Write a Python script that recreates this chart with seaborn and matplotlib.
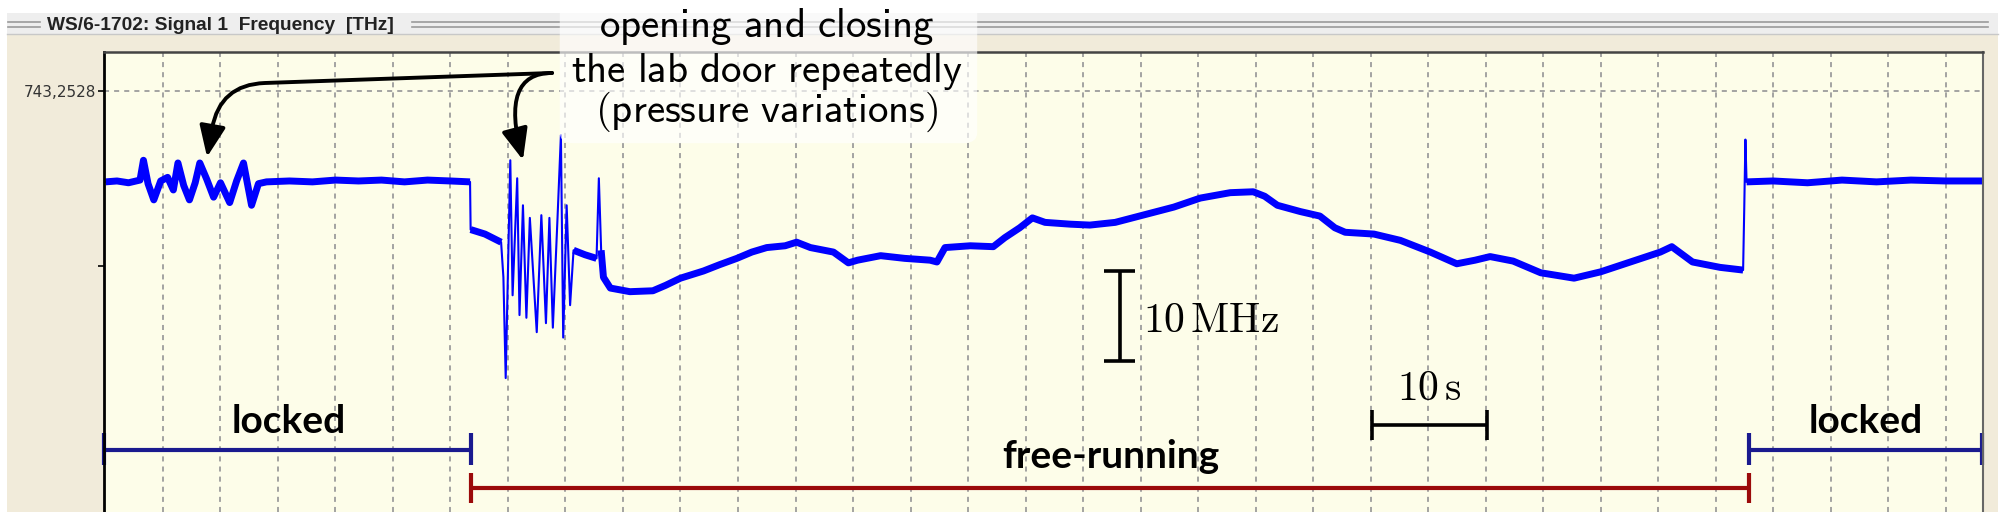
import numpy as np
import pandas as pd
import matplotlib
matplotlib.use("Agg")
import matplotlib.pyplot as plt
from matplotlib.patches import Rectangle, FancyBboxPatch
from matplotlib.lines import Line2D
import seaborn as sns

# wavemeter trace: time in s, frequency offset in MHz from 743,2528 THz
lock_a_t = [0.0, 1.0, 2.0, 3.0, 3.3, 3.7, 4.2, 4.8, 5.4, 5.9, 6.3, 6.8, 7.3, 7.8, 8.2, 8.8, 9.4,
            10.0, 10.8, 11.4, 12.0, 12.7, 13.3, 14.0, 16.0, 18.0, 20.0, 22.0, 24.0, 26.0, 28.0, 30.0, 31.7]
lock_a_f = [-10.1, -10.0, -10.2, -9.9, -7.7, -10.3, -12.1, -10.0, -9.6, -11.0, -8.0, -10.5, -12.1, -10.2, -8.0, -9.8, -11.8,
            -10.2, -12.4, -10.0, -8.0, -12.7, -10.3, -10.1, -10.0, -10.1, -9.9, -10.0, -9.9, -10.1, -9.9, -10.0, -10.1]

drop_t = [31.75, 33.0, 34.4]
drop_f = [-15.4, -15.9, -16.8]

door_t = [34.6, 34.8, 35.2, 35.4, 35.8, 36.0, 36.3, 36.6, 36.9, 37.5, 37.9, 38.3, 38.6, 38.9, 39.3, 39.6, 39.8, 40.1, 40.4]
door_f = [-20.7, -31.9, -7.7, -22.7, -9.7, -24.9, -12.7, -25.2, -14.1, -26.8, -13.8, -25.8, -14.1, -26.3, -14.3, -4.9, -27.4, -12.7, -23.8]

free_a_t = [40.7, 41.7, 42.7]
free_a_f = [-17.7, -18.2, -18.6]

spike_t = [42.9]
spike_f = [-9.7]

free_b_t = [43.1, 43.3, 43.9, 45.6, 47.6, 48.7, 50.0, 52.0, 53.4, 54.9, 56.2, 57.5, 59.1, 60.1, 61.3, 63.3,
            64.6, 65.4, 67.4, 69.5, 71.7, 72.3, 73.0, 75.2, 77.2, 78.2, 79.5, 80.6, 81.7, 83.9, 85.6, 87.8,
            89.9, 92.9, 95.2, 97.8, 99.8, 100.8, 101.9, 103.9, 105.6, 106.9, 107.8, 110.3, 112.6, 115.2, 117.5,
            119.1, 120.4, 122.4, 124.8, 127.7, 130.0, 132.6, 135.2, 136.2, 138.0, 140.4, 142.4]
free_b_f = [-17.7, -20.7, -21.9, -22.3, -22.2, -21.6, -20.8, -20.0, -19.3, -18.6, -17.9, -17.4, -17.2, -16.8, -17.4, -17.9,
            -19.1, -18.8, -18.3, -18.6, -18.8, -19.0, -17.4, -17.2, -17.3, -16.3, -15.2, -14.1, -14.6, -14.8, -14.9, -14.6,
            -13.9, -12.9, -11.9, -11.3, -11.2, -11.7, -12.7, -13.4, -13.9, -15.2, -15.7, -15.9, -16.6, -17.9, -19.2,
            -18.8, -18.4, -18.9, -20.2, -20.8, -20.1, -19.0, -17.9, -17.3, -19.0, -19.6, -19.9]

jump_t = [142.5, 142.6]
jump_f = [-13.0, -5.4]

lock_b_t = [142.7, 145.0, 148.0, 151.0, 154.0, 157.0, 160.0, 163.3]
lock_b_f = [-10.1, -10.0, -10.2, -9.9, -10.1, -9.9, -10.0, -10.0]

# start of free-running / relock (s)
phase_edges = [-0.1, 31.8, 142.9, 163.2]

parts = [("lock_a", lock_a_t, lock_a_f), ("drop", drop_t, drop_f), ("door", door_t, door_f),
         ("free_a", free_a_t, free_a_f), ("spike", spike_t, spike_f), ("free_b", free_b_t, free_b_f),
         ("jump", jump_t, jump_f), ("lock_b", lock_b_t, lock_b_f)]
df = pd.concat([pd.DataFrame({"t": t, "f": f, "part": name}) for name, t, f in parts], ignore_index=True)
band_parts = ["lock_a", "drop", "free_a", "free_b", "lock_b"]

W, H = 2009, 512
plt.rcParams["font.family"] = ["DejaVu Sans"]
plt.rcParams["mathtext.fontset"] = "cm"

fig = plt.figure(figsize=(W / 100, H / 100), dpi=100)
fig.patch.set_facecolor("white")

# window frame of the wavemeter software (behind the axes)
fig.add_artist(Rectangle((7 / W, 0), 1991 / W, 1 - 13 / H, transform=fig.transFigure,
                         fc="#F1EBDA", ec="none", zorder=-3))
fig.add_artist(Rectangle((7 / W, 1 - 34 / H), 1991 / W, 21 / H, transform=fig.transFigure,
                         fc="#EEEEEE", ec="none", zorder=-2))
fig.add_artist(Line2D([7 / W, 1998 / W], [1 - 34 / H] * 2, color="#C8C8C8", lw=1, zorder=-1))
for yy in [21.5, 26.5]:
    fig.add_artist(Line2D([8 / W, 40 / W], [1 - yy / H] * 2, color="#9A9A9A", lw=1.2, zorder=-1))
    fig.add_artist(Line2D([412 / W, 1988 / W], [1 - yy / H] * 2, color="#9A9A9A", lw=1.2, zorder=-1))
fig.text(47 / W, 1 - 25 / H, "WS/6-1702: Signal 1  Frequency  [THz]", va="center", ha="left",
         fontfamily=["Liberation Sans", "DejaVu Sans"], fontweight="bold", fontsize=13.8,
         color="#222222", zorder=-1)

ax = fig.add_axes([104 / W, 0, (1983 - 104) / W, 1 - 52 / H])
ax.set_facecolor("#FDFDE9")
ax.set_xlim(-0.13, 163.26)
ax.set_ylim(-46.78, 4.33)

ax.set_xticks(np.arange(5, 165, 5))
ax.tick_params(axis="x", length=0, labelbottom=False)
ax.grid(axis="x", ls=(0, (2.8, 2.8)), color="#9C9C9C", lw=1.3)
ax.axhline(0, ls=(0, (2.8, 2.8)), color="#9C9C9C", lw=1.3, zorder=0.5)
ax.set_axisbelow(True)
ax.set_yticks([0, -19.5])
ax.set_yticklabels(["743,2528", ""])
ax.tick_params(axis="y", length=4, width=1.2, direction="out", pad=2, labelsize=11, labelcolor="#333333")
ax.spines["left"].set_color("black")
ax.spines["left"].set_linewidth(2)
ax.spines["top"].set_color("#444444")
ax.spines["top"].set_linewidth(1.8)
ax.spines["right"].set_color("#666666")
ax.spines["right"].set_linewidth(1.5)
ax.spines["bottom"].set_visible(False)

# trace: thin line everywhere, thick noisy band where the signal is quiet
sns.lineplot(data=df, x="t", y="f", sort=False, estimator=None, color="#0000FF", lw=1.5, ax=ax)
for p in band_parts:
    sns.lineplot(data=df[df["part"] == p], x="t", y="f", sort=False, estimator=None,
                 color="#0000FF", lw=5.0, ax=ax, solid_capstyle="butt")
ax.set_xlabel("")
ax.set_ylabel("")

# phase brackets
blue, red = "#1A1A8F", "#9B0A0A"
for a, b in [(phase_edges[0], phase_edges[1]), (phase_edges[2], phase_edges[3])]:
    ax.hlines(-39.9, a, b, color=blue, lw=3, clip_on=False)
    ax.vlines([a, b], -41.6, -38.0, color=blue, lw=3, clip_on=False)
ax.hlines(-44.1, phase_edges[1], phase_edges[2], color=red, lw=3)
ax.vlines([phase_edges[1], phase_edges[2]], -45.8, -42.4, color=red, lw=3)
bold = dict(fontfamily=["Lato", "DejaVu Sans"], fontweight="bold", fontsize=28, ha="center", va="baseline")
ax.text(15.9, -38.0, "locked", **bold)
ax.text(153.1, -38.0, "locked", **bold)
ax.text(87.4, -41.9, "free-running", **bold)

# scale bars
ax.vlines(88.2, -30, -20, color="black", lw=2.6)
ax.hlines([-20, -30], 86.85, 89.55, color="black", lw=2.6)
ax.text(90.2, -26.8, r"$10\,\mathrm{MHz}$", fontsize=30, va="baseline", ha="left")
ax.hlines(-37.1, 110.1, 120.1, color="black", lw=2.6)
ax.vlines([110.1, 120.1], -38.8, -35.4, color="black", lw=2.6)
ax.text(115.1, -34.3, r"$10\,\mathrm{s}$", fontsize=30, va="baseline", ha="center")

# annotation box with arrows
ax.add_patch(FancyBboxPatch((39.5, -5.8), 36.3, 16, boxstyle="round,pad=0,rounding_size=1.2",
                            fc="white", alpha=0.65, ec="none", clip_on=False, zorder=5))
for y0, s in [(6.0, r"$\mathsf{opening\ and\ closing}$"),
              (1.0, r"$\mathsf{the\ lab\ door\ repeatedly}$"),
              (-3.4, r"$\mathsf{(pressure\ variations)}$")]:
    ax.text(57.5, y0, s, fontsize=29.5, ha="center", va="baseline", zorder=6, clip_on=False)

arrow = dict(arrowstyle="-|>,head_length=0.95,head_width=0.4", lw=2.8, color="black",
             mutation_scale=20, shrinkA=0, shrinkB=0)
ax.annotate("", xy=(8.83, -7.33), xytext=(38.83, 2.0), annotation_clip=False, zorder=6,
            arrowprops=dict(connectionstyle="angle,angleA=182,angleB=80,rad=45", **arrow))
ax.annotate("", xy=(36.3, -7.67), xytext=(38.83, 2.0), annotation_clip=False, zorder=6,
            arrowprops=dict(connectionstyle="angle3,angleA=180,angleB=105", **arrow))

fig.savefig("out.png", dpi=100)
